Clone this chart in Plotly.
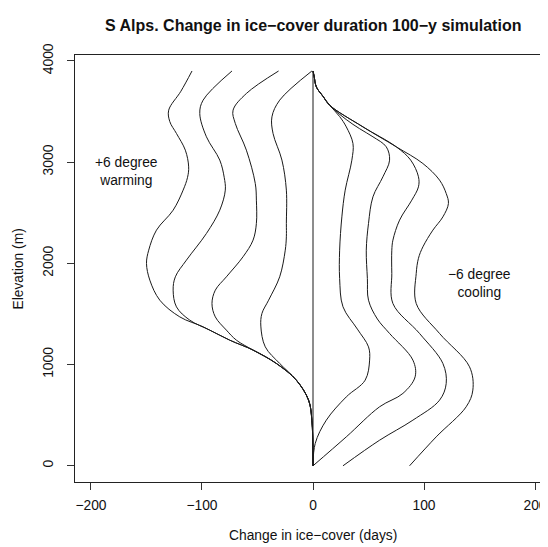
import plotly.graph_objects as go

# ---- data (days of change vs elevation, m) ----
w1_days = [-109, -119, -130, -129, -123, -115, -112, -113, -117, -126, -141, -148, -150, -147, -138, -120, -99, -75, -54, -33, -15, -4, -1, 0]
w1_elev = [3900, 3700, 3513, 3400, 3283, 3118, 2953, 2850, 2723, 2525, 2328, 2130, 1999, 1834, 1636, 1471, 1373, 1241, 1143, 1011, 846, 649, 450, 0]

w2_days = [-73, -99, -102, -96, -84, -80, -79, -84, -96, -114, -124, -126, -123, -111, -93, -75, -54, -33, -15, -4, -1, 0]
w2_elev = [3900, 3612, 3480, 3250, 3020, 2850, 2723, 2525, 2295, 2032, 1867, 1735, 1570, 1439, 1340, 1241, 1143, 1011, 846, 649, 450, 0]

w3_days = [-31, -60, -72, -70, -60, -52, -51, -51, -54, -63, -78, -88, -91, -88, -78, -69, -54, -33, -15, -4, -1, 0]
w3_elev = [3900, 3678, 3513, 3382, 3118, 2789, 2624, 2394, 2229, 2065, 1867, 1735, 1603, 1471, 1340, 1241, 1143, 1011, 846, 649, 450, 0]

w4_days = [-1, -30, -37, -36, -28, -24, -24, -24, -25, -30, -40, -46, -47, -43, -30, -15, -4, -1, 0]
w4_elev = [3900, 3612, 3447, 3283, 3020, 2723, 2394, 2262, 2130, 1867, 1636, 1505, 1380, 1175, 1011, 846, 649, 450, 0]

zero_days = [0, 0]
zero_elev = [0, 3900]

c1_days = [0, 1, 3, 9, 15, 24, 30, 36, 35, 29, 26, 24, 24, 27, 40, 50, 51, 47, 30, 12, 2, 0]
c1_elev = [3900, 3850, 3743, 3650, 3562, 3450, 3348, 3184, 3019, 2723, 2459, 2130, 1850, 1571, 1350, 1175, 1044, 846, 681, 451, 221, 0]

c2_days = [0, 1, 3, 9, 15, 30, 42, 54, 66, 69, 63, 54, 50, 48, 49, 50, 58, 69, 90, 92, 81, 60, 30, 0]
c2_elev = [3900, 3850, 3743, 3650, 3562, 3420, 3330, 3250, 3151, 3019, 2855, 2657, 2394, 2130, 1850, 1636, 1450, 1307, 1044, 879, 715, 583, 286, 0]

c3_days = [0, 1, 3, 9, 15, 45, 75, 88, 95, 95, 89, 78, 72, 71, 71, 72, 96, 117, 120, 114, 90, 60, 27]
c3_elev = [3900, 3850, 3743, 3650, 3562, 3348, 3151, 3020, 2855, 2756, 2624, 2427, 2229, 2130, 1900, 1603, 1307, 1011, 813, 648, 451, 253, 0]

c4_days = [0, 1, 3, 9, 15, 45, 75, 99, 114, 120, 122, 117, 108, 99, 95, 93, 93, 114, 141, 144, 138, 111, 87]
c4_elev = [3900, 3850, 3743, 3650, 3562, 3348, 3151, 2986, 2822, 2690, 2591, 2459, 2328, 2163, 2050, 1900, 1603, 1307, 978, 748, 583, 286, 0]

x_ticks = [-200, -100, 0, 100, 200]
y_ticks = [0, 1000, 2000, 3000, 4000]

title_text = "S Alps. Change in ice\u2212cover duration 100\u2212y simulation"
x_title = "Change in ice\u2212cover (days)"
y_title = "Elevation (m)"
warm_label = "+6 degree<br>warming"
cool_label = "\u22126 degree<br>cooling"

FONT = "Liberation Sans, Arial, Helvetica, sans-serif"
LINE = "#1a1a1a"
FS = 13.8

fig = go.Figure()
series = [(w1_days, w1_elev), (w2_days, w2_elev), (w3_days, w3_elev), (w4_days, w4_elev),
          (zero_days, zero_elev),
          (c1_days, c1_elev), (c2_days, c2_elev), (c3_days, c3_elev), (c4_days, c4_elev)]
for xs, ys in series:
    fig.add_trace(go.Scatter(x=xs, y=ys, mode="lines",
                             line=dict(color=LINE, width=1, shape="spline", smoothing=1.0),
                             hoverinfo="skip", showlegend=False))

# page body has an 8px margin, so the figure is 8px smaller than the window
fig.update_layout(
    width=540, height=539,
    margin=dict(l=67, r=0, t=47, b=65),
    paper_bgcolor="white", plot_bgcolor="white",
    font=dict(family=FONT, size=FS, color="#111"),
    showlegend=False,
)
fig.update_xaxes(range=[-214.4, 211.7], tickvals=x_ticks, ticks="outside", ticklen=7,
                 tickwidth=1, tickcolor="#333", showgrid=False, zeroline=False,
                 showline=True, linecolor="#222", linewidth=1, mirror=True,
                 ticklabelstandoff=3, tickfont=dict(family=FONT, size=FS))
fig.update_yaxes(range=[-160, 4058], tickvals=y_ticks, ticks="outside", ticklen=7,
                 tickwidth=1, tickcolor="#333", showgrid=False, zeroline=False,
                 showline=True, linecolor="#222", linewidth=1, mirror=False,
                 tickangle=-90, ticklabelstandoff=8, tickfont=dict(family=FONT, size=FS))

fig.add_annotation(text="<b>" + title_text + "</b>", xref="x", x=0, yref="paper", y=1.068,
                   showarrow=False, xanchor="center", yanchor="middle",
                   font=dict(family=FONT, size=16, color="#111"))
fig.add_annotation(text=x_title, xref="x", x=0, yref="paper", y=-0.126,
                   showarrow=False, xanchor="center", yanchor="middle",
                   font=dict(family=FONT, size=FS))
fig.add_annotation(text=y_title, xref="paper", x=-0.1184, yref="paper", y=0.5,
                   showarrow=False, xanchor="center", yanchor="middle", textangle=-90,
                   font=dict(family=FONT, size=FS))
fig.add_annotation(text=warm_label, xref="x", x=-168, yref="y", y=2904,
                   showarrow=False, xanchor="center", yanchor="middle",
                   font=dict(family=FONT, size=FS))
fig.add_annotation(text=cool_label, xref="x", x=150, yref="y", y=1801,
                   showarrow=False, xanchor="center", yanchor="middle",
                   font=dict(family=FONT, size=FS))

fig.write_html("out.html")
